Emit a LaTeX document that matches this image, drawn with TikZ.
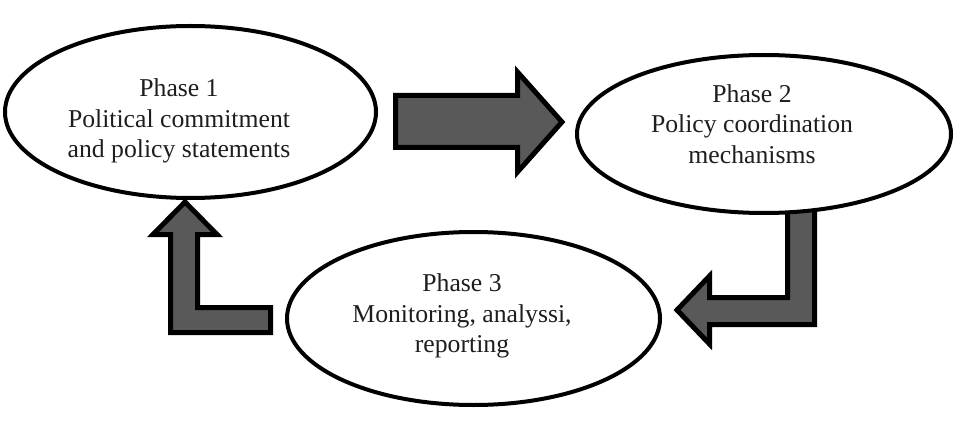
\documentclass[tikz,border=0pt]{standalone}
\usepackage{fontspec}
\setmainfont{Liberation Serif}
\usetikzlibrary{shapes.geometric}
\definecolor{arrowgray}{RGB}{89,89,89}
\definecolor{textgray}{RGB}{30,30,30}
\begin{document}
\begin{tikzpicture}[x=1pt,y=-1pt,
  phase/.style={ellipse, draw=black, line width=4pt, fill=white, inner sep=0pt},
  blockarrow/.style={draw=black, line width=5pt, fill=arrowgray, line join=miter},
  phasetext/.style={align=center, inner sep=0pt, text=textgray,
    font=\fontsize{25.7}{30.5}\selectfont}]
\useasboundingbox (0,0) rectangle (957,422);
% block arrows
\draw[blockarrow] (395.5,95.5) -- (517.5,95.5) -- (517.5,72) -- (562,122)
  -- (517.5,172) -- (517.5,147.5) -- (395.5,147.5) -- cycle;
\draw[blockarrow] (787.5,205) -- (814.5,205) -- (814.5,324.5) -- (709.5,324.5)
  -- (709.5,344) -- (677,310) -- (709.5,276) -- (709.5,297.5) -- (787.5,297.5) -- cycle;
\draw[blockarrow] (170.5,332.5) -- (270.5,332.5) -- (270.5,307.5) -- (197.5,307.5)
  -- (197.5,234.5) -- (217,234.5) -- (185,202) -- (153,234.5) -- (170.5,234.5) -- cycle;
% ellipses
\node[phase, minimum width=371pt, minimum height=172pt] (e1) at (190.5,112) {};
\node[phase, minimum width=374pt, minimum height=158pt] (e2) at (764,134) {};
\node[phase, minimum width=373pt, minimum height=173pt] (e3) at (473.5,318.5) {};
% texts
\node[phasetext] (t1) at (179,121) {Phase 1\\Political commitment\\and policy statements};
\node[phasetext] (t2) at (752,124) {Phase 2\\Policy coordination\\mechanisms};
\node[phasetext] (t3) at (462,316) {Phase 3\\Monitoring, analyssi,\\reporting};
\end{tikzpicture}
\end{document}
